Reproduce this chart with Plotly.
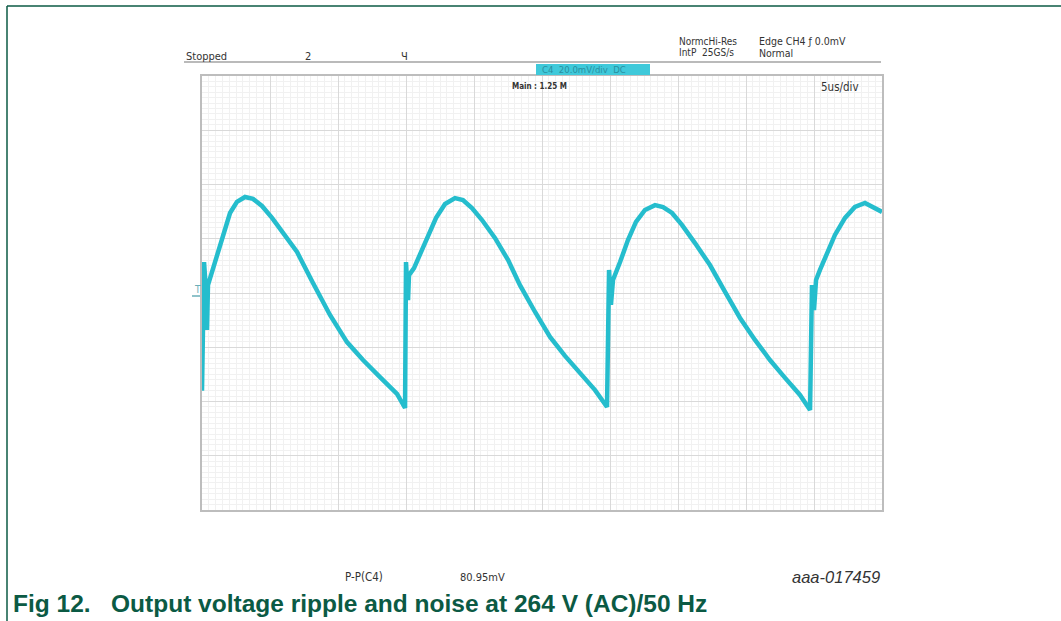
import plotly.graph_objects as go

# Waveform read from the scope capture (time in µs, voltage in mV, 5 µs/div, 20 mV/div)
t_us = [0.0, 0.15, 0.29, 0.37, 0.44, 0.74, 1.03, 1.32, 1.69, 2.06, 2.57, 3.16, 3.75, 4.41, 5.15,
        6.10, 6.99, 8.16, 9.41, 10.66, 11.84, 13.09, 14.34, 14.93,
        15.0, 15.15, 15.22, 15.59, 16.03, 16.62, 17.21, 17.87, 18.60, 19.19, 19.85, 20.59,
        21.54, 22.50, 23.38, 24.49, 25.59, 26.69, 27.79, 28.90, 29.78,
        29.85, 29.93, 30.07, 30.22, 30.74, 31.32, 31.91, 32.57, 33.31, 33.90, 34.56, 35.29,
        36.25, 37.35, 38.46, 39.56, 40.66, 41.76, 42.87, 43.97, 44.71,
        44.78, 44.85, 45.0, 45.15, 45.44, 45.81, 46.54, 47.28, 48.01, 48.75, 49.41, 50.0]
v_mV = [-36.0, 11.4, 1.1, -13.6, 2.9, 7.7, 12.9, 17.7, 24.0, 29.5, 33.6, 35.4, 34.7, 32.1, 27.7,
        21.0, 15.1, 3.7, -8.1, -18.1, -24.7, -31.0, -37.2, -42.4,
        11.4, -2.6, 6.6, 9.2, 14.0, 21.0, 27.7, 32.8, 35.0, 34.3, 31.3, 26.9,
        20.3, 12.2, 2.9, -7.0, -16.2, -23.2, -29.5, -35.8, -42.0,
        4.8, 8.5, -4.4, 4.8, 11.4, 19.5, 26.2, 30.6, 32.4, 31.7, 29.5, 25.1,
        18.4, 10.3, 0.4, -9.2, -17.3, -24.7, -31.3, -37.6, -43.1,
        -2.6, 2.9, -6.3, 4.8, 8.5, 12.9, 21.4, 27.7, 31.7, 33.2, 31.3, 29.9]

x_range = [0, 50]
y_range = [-80, 80]
x_major = 5
y_major = 20

caption = "Fig 12.&nbsp;&nbsp;&nbsp;Output voltage ripple and noise at 264 V (AC)/50 Hz"
measure_label = "P-P(C4)"
measure_value = "80.95mV"
doc_id = "aaa-017459"

GREEN = "#0B5A44"
TRACE = "#25BDCD"
SCOPE_FONT = "Liberation Sans Narrow, DejaVu Sans Condensed, Arial, sans-serif"

# plot area in pixels
L, R, T, B = 202, 882, 76, 510
W, H = 1061, 621


def px(x):
    return (x - L) / (R - L)


def py(y):
    return (B - y) / (B - T)


fig = go.Figure()
fig.add_trace(go.Scatter(x=t_us, y=v_mV, mode="lines",
                         line=dict(color=TRACE, width=4.5), showlegend=False,
                         hoverinfo="skip"))

grid_major = "#D9D9D9"
grid_minor = "#F1F1F1"
fig.update_xaxes(range=x_range, dtick=x_major, showticklabels=False, ticks="",
                 showgrid=True, gridcolor=grid_major, gridwidth=1,
                 minor=dict(dtick=x_major / 10, showgrid=True, gridcolor=grid_minor, gridwidth=1),
                 zeroline=False, showline=True, linecolor="#BDBDBD", linewidth=2, mirror=True,
                 fixedrange=True)
fig.update_yaxes(range=y_range, dtick=y_major, showticklabels=False, ticks="",
                 showgrid=True, gridcolor=grid_major, gridwidth=1,
                 minor=dict(dtick=y_major / 10, showgrid=True, gridcolor=grid_minor, gridwidth=1),
                 zeroline=False, showline=True, linecolor="#BDBDBD", linewidth=2, mirror=True,
                 fixedrange=True)

shapes = [
    # document frame
    dict(type="line", xref="paper", yref="paper", x0=px(7), x1=px(W), y0=py(6), y1=py(6),
         line=dict(color=GREEN, width=1.5)),
    dict(type="line", xref="paper", yref="paper", x0=px(7), x1=px(7), y0=py(6), y1=py(W),
         line=dict(color=GREEN, width=1.5)),
    # scope header line
    dict(type="line", xref="paper", yref="paper", x0=px(184), x1=px(881), y0=py(62), y1=py(62),
         line=dict(color="#777777", width=1.2)),
    # channel box
    dict(type="rect", xref="paper", yref="paper", x0=px(536), x1=px(650), y0=py(75), y1=py(64),
         fillcolor="#3FC9DA", line=dict(width=0)),
    # ground/trigger marker tick
    dict(type="line", xref="paper", yref="paper", x0=px(192), x1=px(200), y0=py(296), y1=py(296),
         line=dict(color="#6AAFB8", width=1.5)),
]

anns = []


def txt(x, y, s, size=11, color="#333333", font=SCOPE_FONT, anchor="left", **kw):
    anns.append(dict(x=px(x), y=py(y), xref="paper", yref="paper", text=s, showarrow=False,
                     xanchor=anchor, yanchor="middle",
                     font=dict(size=size, color=color, family=font), **kw))


txt(184, 57, "Stopped", 11)
txt(303, 57, "2", 11)
txt(399, 57, "Ч", 11)
txt(677, 41, "NormcHi-Res", 10)
txt(677, 53, "IntP  25GS/s", 10)
txt(757, 41, "Edge CH4 ƒ 0.0mV", 10.5)
txt(757, 53, "Normal", 10.5)
txt(540, 69.5, "C4  20.0mV/div  DC", 9.5, color="#2A8FA0")
txt(510, 86, "<b>Main : 1.25 M</b>", 8)
txt(819, 87, "5us/div", 11.5)
txt(192, 289, "T", 10, color="#6AAFB8")
txt(343, 577, measure_label, 11.5)
txt(458, 577, measure_value, 11)
txt(882, 577, "<i>" + doc_id + "</i>", 16.5, color="#333333",
    font="Liberation Sans, Arial, sans-serif", anchor="right")
txt(11, 603, "<b>" + caption + "</b>", 24.5, color=GREEN,
    font="Liberation Sans, Arial, sans-serif")

fig.update_layout(width=W, height=H, margin=dict(l=L, r=W - R, t=T, b=H - B, pad=0),
                  paper_bgcolor="white", plot_bgcolor="white",
                  shapes=shapes, annotations=anns)

fig.write_html("out.html", post_script="document.body.style.margin='0';",
               config={"displayModeBar": False})
